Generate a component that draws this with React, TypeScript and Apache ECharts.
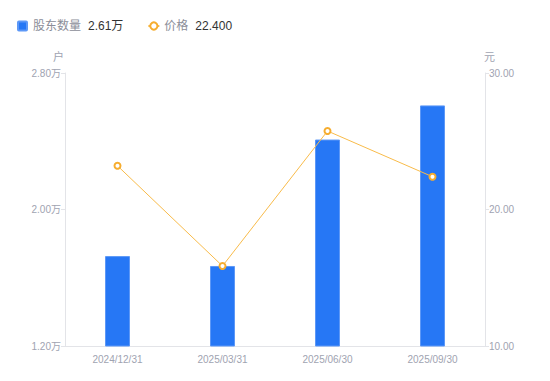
import React, { useEffect, useRef } from "react";
import * as echarts from "echarts";

const categories = ["2024/12/31", "2025/03/31", "2025/06/30", "2025/09/30"];
const holders = [1.727, 1.669, 2.41, 2.61]; // 万户
const prices = [23.2, 15.86, 25.75, 22.4]; // 元
const leftTicks = [1.2, 2.0, 2.8];
const rightTicks = [10, 20, 30];

const FONT = "Liberation Sans, Noto Sans CJK SC, sans-serif";
const LABEL = "#a0a3b1";
const AXIS = "#e3e4e8";

export default function App() {
  const ref = useRef<HTMLDivElement>(null);
  useEffect(() => {
    if (!ref.current) return;
    const chart = echarts.init(ref.current, undefined, { renderer: "svg" });
    const lastH = holders[holders.length - 1];
    const lastP = prices[prices.length - 1];
    chart.setOption({
      animation: false,
      textStyle: { fontFamily: FONT },
      legend: {
        left: 4,
        top: 7,
        itemWidth: 11,
        itemHeight: 9,
        itemGap: 24,
        data: [
          { name: "股东数量", icon: "path://M1,0H9A1,1 0 0 1 10,1V9A1,1 0 0 1 9,10H1A1,1 0 0 1 0,9V1A1,1 0 0 1 1,0Z" },
          { name: "价格" },
        ],
        formatter: (name: string) =>
          name === "股东数量"
            ? `{n|${name}}{v|${lastH.toFixed(2)}万}`
            : `{n|${name}}{v|${lastP.toFixed(3)}}`,
        textStyle: {
          rich: {
            n: { color: "#8b8e99", fontSize: 12, fontFamily: FONT, padding: [0, 7, 0, 0] },
            v: { color: "#333", fontSize: 12, fontFamily: FONT },
          },
        },
      },
      grid: { left: 57, right: 57, top: 65, bottom: 27 },
      xAxis: {
        type: "category",
        data: categories,
        axisLine: { lineStyle: { color: AXIS } },
        axisTick: { show: false },
        axisLabel: { color: LABEL, fontSize: 10, margin: 8 },
      },
      yAxis: [
        {
          type: "value",
          min: 1.2,
          max: 2.8,
          interval: 0.4,
          name: "户",
          nameGap: 11,
          nameTextStyle: { color: LABEL, fontSize: 11, align: "right", padding: [0, 1, 0, 0] },
          axisLine: { show: true, lineStyle: { color: AXIS } },
          axisTick: { show: true, length: 4, customValues: leftTicks, lineStyle: { color: AXIS } },
          axisLabel: {
            color: LABEL,
            fontSize: 10,
            margin: 4,
            customValues: leftTicks,
            formatter: (v: number) => v.toFixed(2) + "万",
          },
          splitLine: { show: false },
        },
        {
          type: "value",
          min: 10,
          max: 30,
          interval: 10,
          name: "元",
          nameGap: 11,
          nameTextStyle: { color: LABEL, fontSize: 11, align: "left", padding: [0, 0, 0, -1] },
          axisLine: { show: true, lineStyle: { color: AXIS } },
          axisTick: { show: true, length: 4, customValues: rightTicks, lineStyle: { color: AXIS } },
          axisLabel: {
            color: LABEL,
            fontSize: 10,
            margin: 4,
            customValues: rightTicks,
            formatter: (v: number) => v.toFixed(2),
          },
          splitLine: { show: false },
        },
      ],
      series: [
        {
          name: "股东数量",
          type: "bar",
          yAxisIndex: 0,
          data: holders,
          barWidth: 25,
          itemStyle: { color: "#2677f5", borderColor: "#5d98f7", borderWidth: 1 },
        },
        {
          name: "价格",
          type: "line",
          yAxisIndex: 1,
          data: prices,
          symbol: "emptyCircle",
          symbolSize: 6,
          lineStyle: { width: 1, color: "#f8bb4a" },
          itemStyle: { color: "#f6ad2f", borderWidth: 2 },
        },
      ],
    });
    return () => chart.dispose();
  }, []);
  return <div ref={ref} style={{ width: 534, height: 365 }} />;
}
